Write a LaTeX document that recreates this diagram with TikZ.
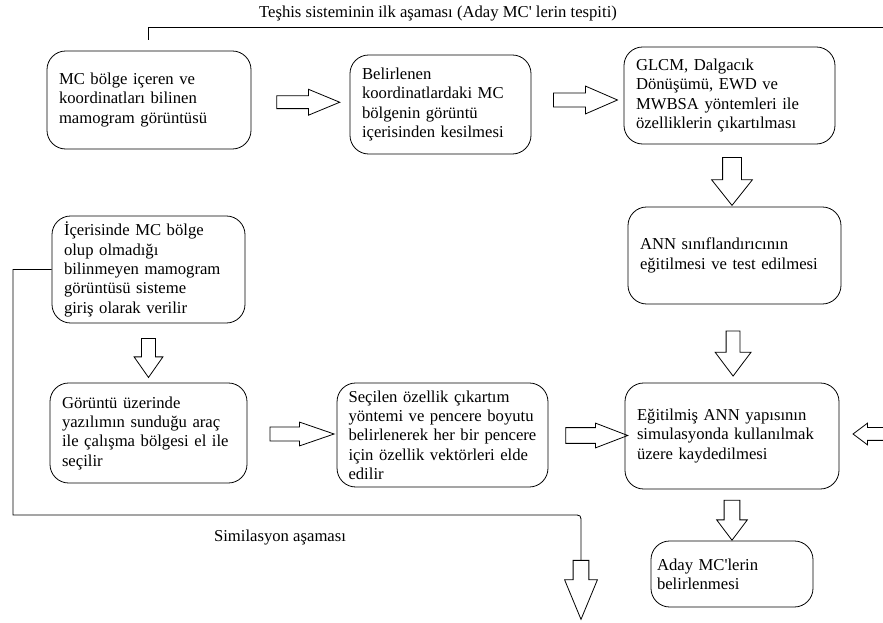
\documentclass[tikz,border=0pt]{standalone}
\usepackage{fontspec}
\setmainfont{Liberation Serif}[Ligatures=TeXOff]
\usetikzlibrary{shapes.arrows,calc}

\tikzset{
  stepbox/.style={draw, line width=0.6pt, rounded corners=14pt, align=left, inner xsep=9pt, inner ysep=0pt, font=\fontsize{12.5}{14.5}\selectfont},
  % length, half shaft, head extend, head width, tip angle
  fatarrow/.style n args={5}{draw, line width=0.6pt, single arrow, single arrow head indent=0pt, inner xsep=0pt, inner ysep=#2, single arrow head extend=#3, minimum width=#4, minimum height=#1, single arrow tip angle=#5},
}

\begin{document}
\begin{tikzpicture}[x=0.75pt,y=0.75pt,yscale=-1,xscale=1]
\clip (0,0) rectangle (883,623);

% Boxes, first stage
\node[stepbox, text width=135pt, minimum height=73.5pt] (mcbox) at (149,100) {MC bölge içeren ve\\koordinatları bilinen\\mamogram görüntüsü};
\node[stepbox, text width=117.75pt, minimum height=74.25pt] (cutbox) at (440.5,104.5) {Belirlenen\\koordinatlardaki MC\\bölgenin görüntü\\içerisinden kesilmesi};
\node[stepbox, text width=140.25pt, minimum height=72.75pt] (featbox) at (729.5,95.5) {GLCM, Dalgacık\\Dönüşümü, EWD ve\\MWBSA yöntemleri ile\\özelliklerin çıkartılması};
\node[stepbox, text width=141.75pt, minimum height=72.75pt] (annbox) at (734.5,255.5) {ANN sınıflandırıcının\\eğitilmesi ve test edilmesi};
\node[stepbox, text width=142.5pt, minimum height=79.5pt] (savebox) at (732,436) {Eğitilmiş ANN yapısının\\simulasyonda kullanılmak\\üzere kaydedilmesi};
\node[stepbox, text width=112.5pt, inner xsep=4.5pt, minimum height=49.5pt] (candbox) at (732,574) {Aday MC'lerin\\belirlenmesi};

% Boxes, simulation stage
\node[stepbox, text width=126.75pt, minimum height=80.25pt] (inbox) at (148.5,269.5) {İçerisinde MC bölge\\olup olmadığı\\bilinmeyen mamogram\\görüntüsü sisteme\\giriş olarak verilir};
\node[stepbox, text width=129.75pt, minimum height=75pt] (selbox) at (148.5,433) {Görüntü üzerinde\\yazılımın sunduğu araç\\ile çalışma bölgesi el ile\\seçilir};
\node[stepbox, text width=141pt, inner xsep=8.6pt, minimum height=78pt] (vecbox) at (442.5,435) {Seçilen özellik çıkartım\\yöntemi ve pencere boyutu\\belirlenerek her bir pencere\\için özellik vektörleri elde\\edilir};

% Block arrows
\node[fatarrow={47.25pt}{4.5pt}{4.9pt}{18.75pt}{45}] (ab) at ($(mcbox.east)!0.5!(cutbox.west)$) {};
\node[fatarrow={48pt}{4.9pt}{5.25pt}{20.25pt}{47}] (bc) at ($(cutbox.east)!0.5!(featbox.west)$) {};
\node[fatarrow={36pt}{6.75pt}{8.25pt}{30pt}{77}, rotate=-90] (cg) at ($(featbox.south)!0.5!(annbox.north)$) {};
\node[fatarrow={33.75pt}{4.9pt}{8.25pt}{26.25pt}{74}, rotate=-90] (gh) at ($(annbox.south)!0.57!(savebox.north)$) {};
\node[fatarrow={30pt}{5.6pt}{5.6pt}{22.5pt}{74}, rotate=-90] (hi) at ($(savebox.south)!0.5!(candbox.north)$) {};
\node[fatarrow={29.25pt}{4.9pt}{5.6pt}{21pt}{70}, rotate=-90] (de) at ($(inbox.south)!0.5!(selbox.north)$) {};
\node[fatarrow={48pt}{4.9pt}{3.75pt}{17.25pt}{38}] (ef) at ($(selbox.east)!0.5!(vecbox.west)$) {};
\node[fatarrow={46.5pt}{5.6pt}{3.4pt}{18pt}{42}] (fh) at ($(vecbox.east)!0.5!(savebox.west)$) {};
\node[fatarrow={36pt}{4.5pt}{3.4pt}{15.75pt}{74}, rotate=180, anchor=tip] (rh) at ($(savebox.east)+(13,-2)$) {};
\node[fatarrow={44.25pt}{5.6pt}{6.4pt}{24pt}{45}, rotate=-90, anchor=tail] (simarrow) at (581,560) {};

% Stage brackets
\coordinate (topleft) at (148,27);
\draw[line width=0.6pt] ($(mcbox.north)+(-1,-11)$) -- (topleft) -- (900,27);
\coordinate (botleft) at (13,515);
\draw[line width=0.6pt] (inbox.west) -- (botleft |- inbox.west) -- (botleft) -- (573,515) .. controls (581,515) .. (581,523) -- (simarrow.tail);

% Text Node
\node[font=\fontsize{12.5}{14.5}\selectfont] (stage1) at (438,14) {Teşhis sisteminin ilk aşaması (Aday MC' lerin tespiti)};
% Text Node
\node[font=\fontsize{12.5}{14.5}\selectfont] (stage2) at (280,538) {Similasyon aşaması};
\end{tikzpicture}
\end{document}
